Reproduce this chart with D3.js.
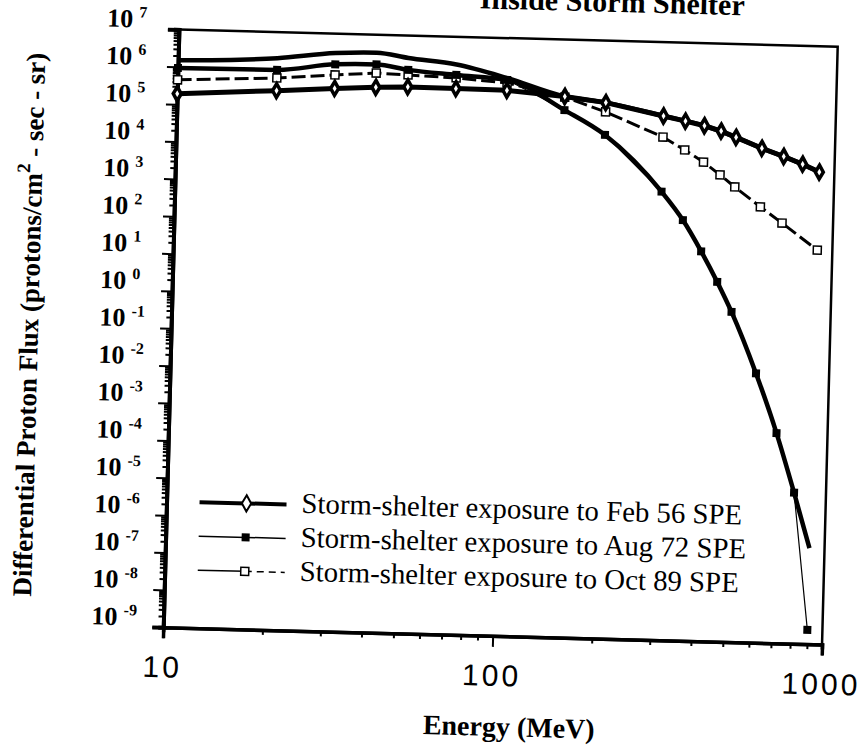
<!DOCTYPE html>
<html><head><meta charset="utf-8">
<script src="https://cdn.jsdelivr.net/npm/d3@7"></script>
<style>body{margin:0;background:#fff}svg{display:block}</style>
</head><body>
<svg id="chart" width="862" height="748"></svg>
<script>
// ---- data ----
const energy = [10,20,30,40,50,70,100,150,200,300,350,400,450,500,600,700,800,900];
const feb56Flux = [1.9e5,2.7e5,3.4e5,3.9e5,4.2e5,4.1e5,4.0e5,3.0e5,2.2e5,1.06e5,8.0e4,6.2e4,4.6e4,3.2e4,1.7e4,1.06e4,6.8e3,4.3e3];
const aug72Flux = [9.3e5,9.7e5,1.5e6,1.6e6,1.2e6,9.5e5,7.6e5,1.3e5,3.0e4,1.0e3,180,27,4.2,0.68,0.016,4.2e-4,1.1e-5,2.4e-9];
const aug72FitEnergy = [10,20,30,40,50,70,100,150,200,300,350,400,450,500,600,700,800,900];
const aug72FitFlux = [9.3e5,9.7e5,1.5e6,1.6e6,1.2e6,9.5e5,7.6e5,1.3e5,3.0e4,1.0e3,180,27,4.2,0.68,0.016,4.2e-4,1.1e-5,3.7e-7];
const oct89Energy = [10,20,30,40,50,70,100,150,200,300,350,400,450,500,600,700,900];
const oct89Flux = [4.5e5,5.9e5,7.8e5,9.4e5,8.8e5,7.9e5,6.3e5,2.9e5,1.24e5,2.9e4,1.35e4,6.6e3,3.1e3,1.5e3,460,176,35];
const upperEnergy = [10,20,30,40,50,70,100,150,200,300,400,500,600,700,800,900];
const upperFlux = [1.5e6,2.0e6,3.0e6,3.3e6,2.5e6,1.8e6,8.5e5,3.0e5,2.2e5,1.06e5,6.2e4,3.2e4,1.7e4,1.06e4,6.8e3,4.3e3];
const yExponents = [7,6,5,4,3,2,1,0,-1,-2,-3,-4,-5,-6,-7,-8,-9];
const xTickLabels = [10,100,1000];
const legendLabels = ["Storm-shelter exposure to Feb 56 SPE","Storm-shelter exposure to Aug 72 SPE","Storm-shelter exposure to Oct 89 SPE"];
const titleText = "Inside Storm Shelter";
const xTitle = "Energy (MeV)";

// ---- layout ----
const serif = "'Liberation Serif','Times New Roman',serif";
const svg = d3.select('#chart');
const root = svg.append('g').attr('transform','rotate(1.5,501,336)');
const M = {left:171, right:830, top:38, bottom:636};
const x = d3.scaleLog().domain([10,1000]).range([M.left,M.right]);
const y = d3.scaleLog().domain([1e-9,1e7]).range([M.bottom,M.top]);

// frame
root.append('path').attr('d',`M${M.left},${M.top}H${M.right}V${M.bottom}`)
  .attr('fill','none').attr('stroke','#000').attr('stroke-width',2.5);

// y axis
const yMajor = yExponents.map(e=>Math.pow(10,e));
const yMinor = [];
for(let e=-9;e<7;e++) for(let k=2;k<10;k++) yMinor.push(k*Math.pow(10,e));
const yAxMinor = root.append('g').attr('transform',`translate(${M.left},0)`)
  .call(d3.axisLeft(y).tickValues(yMinor).tickSize(5).tickFormat(''));
const yAxMajor = root.append('g').attr('transform',`translate(${M.left},0)`)
  .call(d3.axisLeft(y).tickValues(yMajor).tickSize(11).tickFormat(''));
[yAxMinor,yAxMajor].forEach(g=>{g.selectAll('.tick line').attr('stroke','#000').attr('stroke-width',2);
  g.select('.domain').attr('stroke','#000').attr('stroke-width',4);});

// y labels
const yl = root.append('g').attr('font-family',serif).attr('font-weight','bold');
yExponents.forEach(e=>{
  const t = yl.append('text').attr('x',99).attr('y',y(Math.pow(10,e))-1).attr('font-size',26);
  t.append('tspan').text('10');
  t.append('tspan').attr('dx',6).attr('dy',-10).attr('font-size',16).text(e);
});

// x axis
const xMinor = [];
for(let e=1;e<3;e++) for(let k=2;k<10;k++) xMinor.push(k*Math.pow(10,e));
const xAxMinor = root.append('g').attr('transform',`translate(0,${M.bottom})`)
  .call(d3.axisBottom(x).tickValues(xMinor).tickSize(5).tickFormat(''));
const xAxMajor = root.append('g').attr('transform',`translate(0,${M.bottom})`)
  .call(d3.axisBottom(x).tickValues(xTickLabels).tickSize(11).tickFormat(''));
[xAxMinor,xAxMajor].forEach(g=>{g.selectAll('.tick line').attr('stroke','#000').attr('stroke-width',2);
  g.select('.domain').attr('stroke','#000').attr('stroke-width',3.5);});
root.append('g').selectAll('text').data(xTickLabels).join('text')
  .attr('x',d=>x(d)).attr('y',M.bottom+50).attr('text-anchor','middle')
  .attr('font-family',"'Liberation Sans',Arial,sans-serif").attr('font-size',30)
  .attr('letter-spacing',3).text(d=>d);

// titles
root.append('text').attr('x',519).attr('y',736).attr('text-anchor','middle')
  .attr('font-family',serif).attr('font-weight','bold').attr('font-size',28).text(xTitle);
const yt = root.append('text').attr('transform','translate(38,337) rotate(-90)')
  .attr('text-anchor','middle').attr('font-family',serif).attr('font-weight','bold').attr('font-size',27);
yt.append('tspan').text('Differential Proton Flux (protons/cm');
yt.append('tspan').attr('dy',-12).attr('font-size',19).text('2');
yt.append('tspan').attr('dy',12).text(' - sec - sr)');
root.append('text').attr('x',736).attr('y',9).attr('text-anchor','end')
  .attr('font-family',serif).attr('font-weight','bold').attr('font-size',30).text(titleText);

// ---- series ----
const line = d3.line().x(d=>x(d[0])).y(d=>y(d[1]));
const smooth = d3.line().curve(d3.curveMonotoneX).x(d=>x(d[0])).y(d=>y(d[1]));
const plot = root.append('g');
const zip = (a,b)=>a.map((v,i)=>[v,b[i]]);

plot.append('path').attr('d',smooth(zip(upperEnergy,upperFlux))).attr('fill','none').attr('stroke','#000').attr('stroke-width',4.5);
plot.append('path').attr('d',line(zip(oct89Energy,oct89Flux))).attr('fill','none').attr('stroke','#000').attr('stroke-width',3).attr('stroke-dasharray','14,5');
plot.append('path').attr('d',smooth(zip(aug72FitEnergy,aug72FitFlux))).attr('fill','none').attr('stroke','#000').attr('stroke-width',4.5);
plot.append('path').attr('d',line(zip(energy,aug72Flux))).attr('fill','none').attr('stroke','#000').attr('stroke-width',1.2);
plot.append('path').attr('d',line(zip(energy,feb56Flux))).attr('fill','none').attr('stroke','#000').attr('stroke-width',5);

const diamond = d3.symbol().type(d3.symbolDiamond).size(55);
const lgDiamond = d3.symbol().type(d3.symbolDiamond).size(75);
const square = d3.symbol().type(d3.symbolSquare).size(64);
plot.append('g').selectAll('path').data(zip(oct89Energy,oct89Flux)).join('path')
  .attr('transform',d=>`translate(${x(d[0])},${y(d[1])})`).attr('d',square)
  .attr('fill','#fff').attr('stroke','#000').attr('stroke-width',1.5);
plot.append('g').selectAll('path').data(zip(energy,aug72Flux)).join('path')
  .attr('transform',d=>`translate(${x(d[0])},${y(d[1])})`).attr('d',square)
  .attr('fill','#000');
plot.append('g').selectAll('path').data(zip(energy,feb56Flux)).join('path')
  .attr('transform',d=>`translate(${x(d[0])},${y(d[1])})`).attr('d',diamond)
  .attr('fill','#fff').attr('stroke','#000').attr('stroke-width',3.5);

// ---- legend ----
const lg = root.append('g');
const rows = [510,544,578];
const lx0 = 204, lx1 = 291, lm = 251;
lg.append('line').attr('x1',lx0).attr('x2',lx1).attr('y1',rows[0]).attr('y2',rows[0]).attr('stroke','#000').attr('stroke-width',4);
lg.append('path').attr('transform',`translate(${lm},${rows[0]})`).attr('d',lgDiamond).attr('fill','#fff').attr('stroke','#000').attr('stroke-width',2);
lg.append('line').attr('x1',lx0).attr('x2',lx1).attr('y1',rows[1]).attr('y2',rows[1]).attr('stroke','#000').attr('stroke-width',1.5);
lg.append('path').attr('transform',`translate(${lm},${rows[1]})`).attr('d',square).attr('fill','#000');
lg.append('line').attr('x1',lx0).attr('x2',lm).attr('y1',rows[2]).attr('y2',rows[2]).attr('stroke','#000').attr('stroke-width',1.5);
lg.append('line').attr('x1',lm).attr('x2',lx1).attr('y1',rows[2]).attr('y2',rows[2]).attr('stroke','#000').attr('stroke-width',1.5).attr('stroke-dasharray','7,5');
lg.append('path').attr('transform',`translate(${lm},${rows[2]})`).attr('d',square).attr('fill','#fff').attr('stroke','#000').attr('stroke-width',1.5);
lg.selectAll('text.lab').data(legendLabels).join('text').attr('class','lab')
  .attr('x',306).attr('y',(d,i)=>rows[i]+8).attr('font-family',serif).attr('font-size',28.8).text(d=>d);
</script>
</body></html>
